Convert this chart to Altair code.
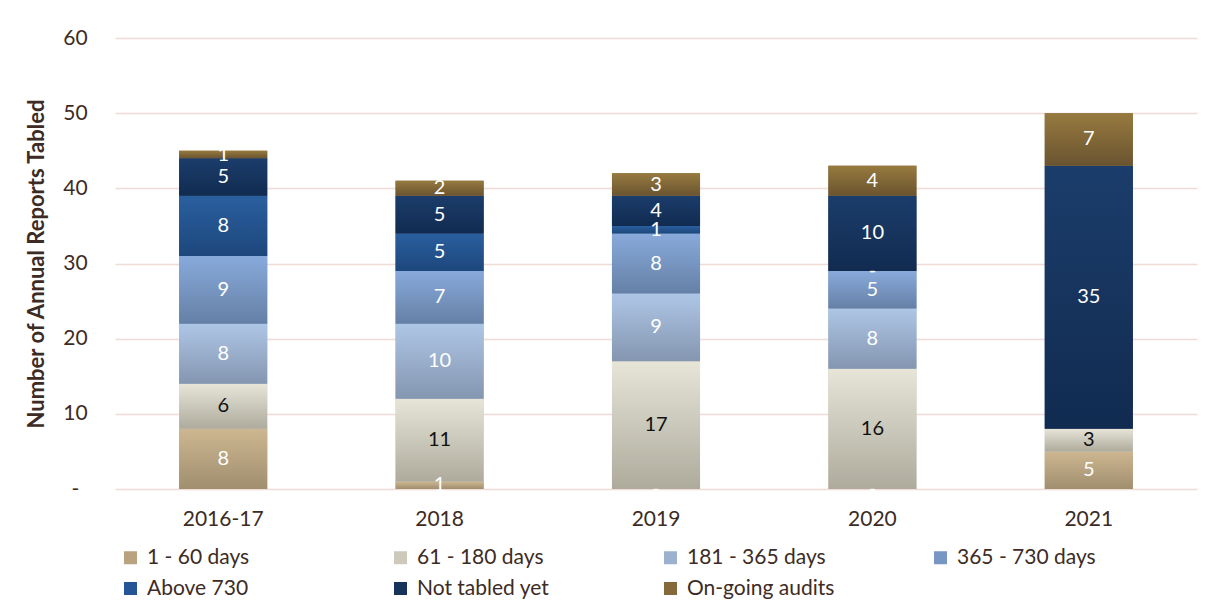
import altair as alt
import pandas as pd

years = ["2016-17", "2018", "2019", "2020", "2021"]
series = ["1 - 60 days", "61 - 180 days", "181 - 365 days", "365 - 730 days",
          "\u00a0Above 730", "Not tabled yet", "On-going audits"]
d_1_60 = [8, 1, 0, 0, 5]
d_61_180 = [6, 11, 17, 16, 3]
d_181_365 = [8, 10, 9, 8, None]
d_365_730 = [9, 7, 8, 5, None]
d_above_730 = [8, 5, 1, 0, None]
d_not_tabled = [5, 5, 4, 10, 35]
d_ongoing = [1, 2, 3, 4, 7]
y_ticks = [0, 10, 20, 30, 40, 50, 60]

series_values = [d_1_60, d_61_180, d_181_365, d_365_730, d_above_730, d_not_tabled, d_ongoing]
legend_colors = ["#b8a27f", "#cdcabb", "#9bb1cd", "#7796c3", "#245596", "#16335c", "#85693a"]
grad_top = ["#cdb791", "#e6e5d7", "#aec6e6", "#88aadb", "#2a5f9f", "#1b3d6b", "#977a3f"]
grad_bot = ["#a08e6e", "#aeab9d", "#8496b0", "#6580a6", "#1d477c", "#112b50", "#6a5430"]

rows = []
for i, (s, vals) in enumerate(zip(series, series_values)):
    for y, v in zip(years, vals):
        rows.append({"year": y, "series": s, "order": i, "value": v})
df = pd.DataFrame(rows)

TXT = "#3d2b25"
FONT = "Lato"
YTITLE = "Number of Annual Reports Tabled"

base = (
    alt.Chart(df)
    .transform_filter("isValid(datum.value)")
    .transform_stack(stack="value", groupby=["year"], as_=["y0", "y1"],
                     sort=[alt.SortField("order", order="ascending")])
    .transform_calculate(mid="(datum.y0 + datum.y1) / 2")
)


def x_enc():
    return alt.X("year:N", sort=years, title=None,
                 scale=alt.Scale(paddingInner=0.593, paddingOuter=0.2965))


def y_enc(field):
    return alt.Y(field, title=YTITLE, scale=alt.Scale(domain=[0, 60]),
                 axis=alt.Axis(values=y_ticks,
                               labelExpr="datum.value == 0 ? '-' : datum.label"))


legend_layer = base.mark_bar().encode(
    x=x_enc(),
    y=y_enc("y1:Q"),
    y2="y0:Q",
    color=alt.Color("series:N", sort=series,
                    scale=alt.Scale(domain=series, range=legend_colors),
                    legend=alt.Legend(title=None, orient="none", direction="horizontal",
                                      legendX=5, legendY=509,
                                      columns=4, symbolType="square", symbolSize=169,
                                      symbolStrokeWidth=0, labelFont=FONT, labelFontSize=21,
                                      labelColor=TXT, gridAlign="all", columnPadding=95,
                                      rowPadding=9, labelOffset=6, padding=0)),
)

layers = [legend_layer]
for i, s in enumerate(series):
    grad = alt.Gradient(gradient="linear",
                        stops=[alt.GradientStop(color=grad_top[i], offset=0),
                               alt.GradientStop(color=grad_bot[i], offset=1)],
                        x1=0, x2=0, y1=0, y2=1)
    layers.append(
        base.transform_filter(alt.datum.series == s)
        .mark_bar(color=grad)
        .encode(x=x_enc(), y=y_enc("y1:Q"), y2="y0:Q")
    )

labels = base.transform_calculate(
    lbl="datum.value == 0 ? '-' : toString(datum.value)",
    lblcolor="datum.series == '61 - 180 days' ? '#111111' : '#ffffff'",
).mark_text(font=FONT, fontSize=20, baseline="middle").encode(
    x=x_enc(),
    y=y_enc("mid:Q"),
    text="lbl:N",
    color=alt.Color("lblcolor:N", scale=None),
)
layers.append(labels)

chart = (
    alt.layer(*layers)
    .properties(width=1082, height=451,
                autosize=alt.AutoSizeParams(type="none"),
                padding={"left": 107, "top": 30, "right": 15, "bottom": 118})
    .configure(background="#ffffff")
    .configure_view(stroke=None)
    .configure_axisX(labelFont=FONT, labelFontSize=21, labelColor=TXT,
                     labelPadding=19, ticks=False, domain=False, grid=False,
                     labelAngle=0)
    .configure_axisY(labelFont=FONT, labelFontSize=21, labelColor=TXT,
                     labelAlign="center", labelPadding=40, ticks=False, tickSize=0,
                     domain=False, grid=True, gridColor="#efdcd5", gridWidth=1.5,
                     titleFont=FONT, titleFontSize=22, titleFontWeight="bold",
                     titleColor=TXT, titleX=-79, titleY=225.5, titleAngle=270,
                     titleAlign="center", titleBaseline="middle")
)

chart.save("out.html", embed_options={"renderer": "svg", "actions": False})
